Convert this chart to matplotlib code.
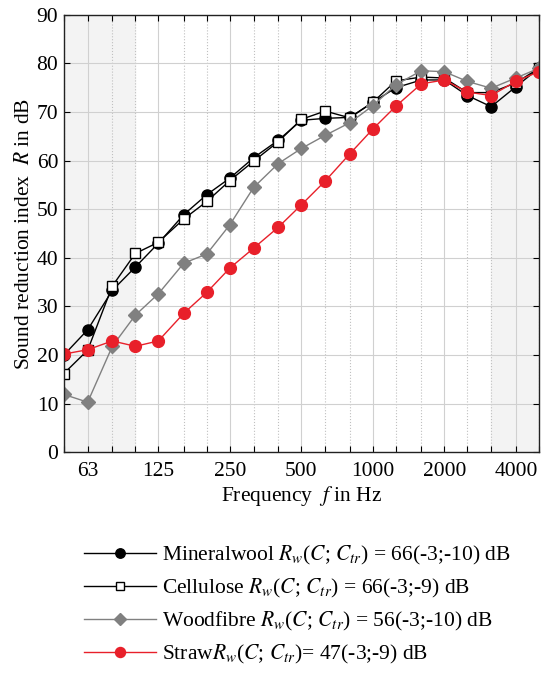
import numpy as np
import matplotlib
matplotlib.use("Agg")
import matplotlib.pyplot as plt
from matplotlib.ticker import FixedLocator, NullFormatter

plt.rcParams["font.family"] = ["Liberation Serif", "DejaVu Serif"]
plt.rcParams["mathtext.fontset"] = "stix"

# third-octave band centre frequencies (Hz)
freq = [50, 63, 80, 100, 125, 160, 200, 250, 315, 400, 500, 630, 800,
        1000, 1250, 1600, 2000, 2500, 3150, 4000, 5000]
tick_freq = [63, 125, 250, 500, 1000, 2000, 4000]
tick_labels = ["63", "125", "250", "500", "1000", "2000", "4000"]

mineralwool = [20.0, 25.2, 33.3, 38.1, 43.0, 48.9, 53.0, 56.4, 60.6, 64.2, 68.3,
               68.7, 68.9, 72.0, 75.0, 76.6, 76.6, 73.4, 71.1, 75.2, 79.0]
cellulose = [16.2, 21.0, 34.2, 40.9, 43.2, 48.0, 51.6, 55.9, 59.9, 63.9, 68.5,
             70.2, 68.8, 72.0, 76.4, 77.2, 77.0, 74.0, 74.0, 76.0, 79.0]
woodfibre = [11.9, 10.3, 21.8, 28.2, 32.6, 38.9, 40.8, 46.8, 54.5, 59.4, 62.5,
             65.2, 67.8, 71.3, 75.6, 78.5, 78.3, 76.3, 74.9, 77.0, 79.0]
straw = [20.2, 21.1, 22.9, 21.8, 22.9, 28.6, 32.9, 37.9, 42.0, 46.3, 50.9,
         55.8, 61.4, 66.5, 71.2, 75.8, 76.6, 74.1, 73.4, 76.3, 78.3]

fig = plt.figure(figsize=(5.41, 6.74), dpi=100)
ax = fig.add_axes([0.118, 0.329, 0.878, 0.649])

ax.axvspan(50, 100, color="#f3f3f3", zorder=0)
ax.axvspan(3150, 5000, color="#f3f3f3", zorder=0)

ax.plot(freq, mineralwool, color="black", lw=1.0, marker="o", ms=8,
        mfc="black", mec="black",
        label=r"Mineralwool $R_w$($C$; $C_{tr}$) = 66(-3;-10) dB")
ax.plot(freq, cellulose, color="black", lw=1.0, marker="s", ms=7.5,
        mfc="white", mec="black",
        label=r"Cellulose $R_w$($C$; $C_{tr}$) = 66(-3;-9) dB")
ax.plot(freq, woodfibre, color="#808080", lw=1.0, marker="D", ms=7,
        mfc="#808080", mec="#808080",
        label=r"Woodfibre $R_w$($C$; $C_{tr}$) = 56(-3;-10) dB")
ax.plot(freq, straw, color="#e8202a", lw=1.0, marker="o", ms=8.5,
        mfc="#e8202a", mec="#e8202a",
        label=r"Straw$R_w$($C$; $C_{tr}$)= 47(-3;-9) dB")

ax.set_xscale("log")
ax.set_xlim(50, 5000)
ax.set_ylim(0, 90)
ax.xaxis.set_major_locator(FixedLocator(tick_freq))
ax.set_xticklabels(tick_labels)
ax.xaxis.set_minor_locator(FixedLocator([f for f in freq if f not in tick_freq]))
ax.xaxis.set_minor_formatter(NullFormatter())
ax.set_yticks(np.arange(0, 91, 10))

ax.grid(True, which="major", color="#d0d0d0", lw=0.8)
ax.grid(True, which="minor", axis="x", color="#c0c0c0", lw=0.8, ls=":")
ax.set_axisbelow(True)

ax.tick_params(which="both", direction="in", top=True, right=True,
               labelsize=15.5, length=4, width=0.8)
ax.tick_params(which="minor", length=4)
ax.tick_params(axis="x", pad=7)
ax.tick_params(axis="y", pad=4)
for s in ax.spines.values():
    s.set_linewidth(1.0)
    s.set_color("#222222")

ax.set_xlabel(r"Frequency  $f$ in Hz", fontsize=15.5, labelpad=2)
ax.set_ylabel(r"Sound reduction index  $R$ in dB", fontsize=15.5, labelpad=2)

fig.legend(loc="upper left", bbox_to_anchor=(0.14, 0.205), frameon=False,
           fontsize=15.5, handlelength=3.35, handletextpad=0.25,
           labelspacing=0.45, markerscale=0.85, borderaxespad=0)

fig.savefig("out.png", dpi=100)
